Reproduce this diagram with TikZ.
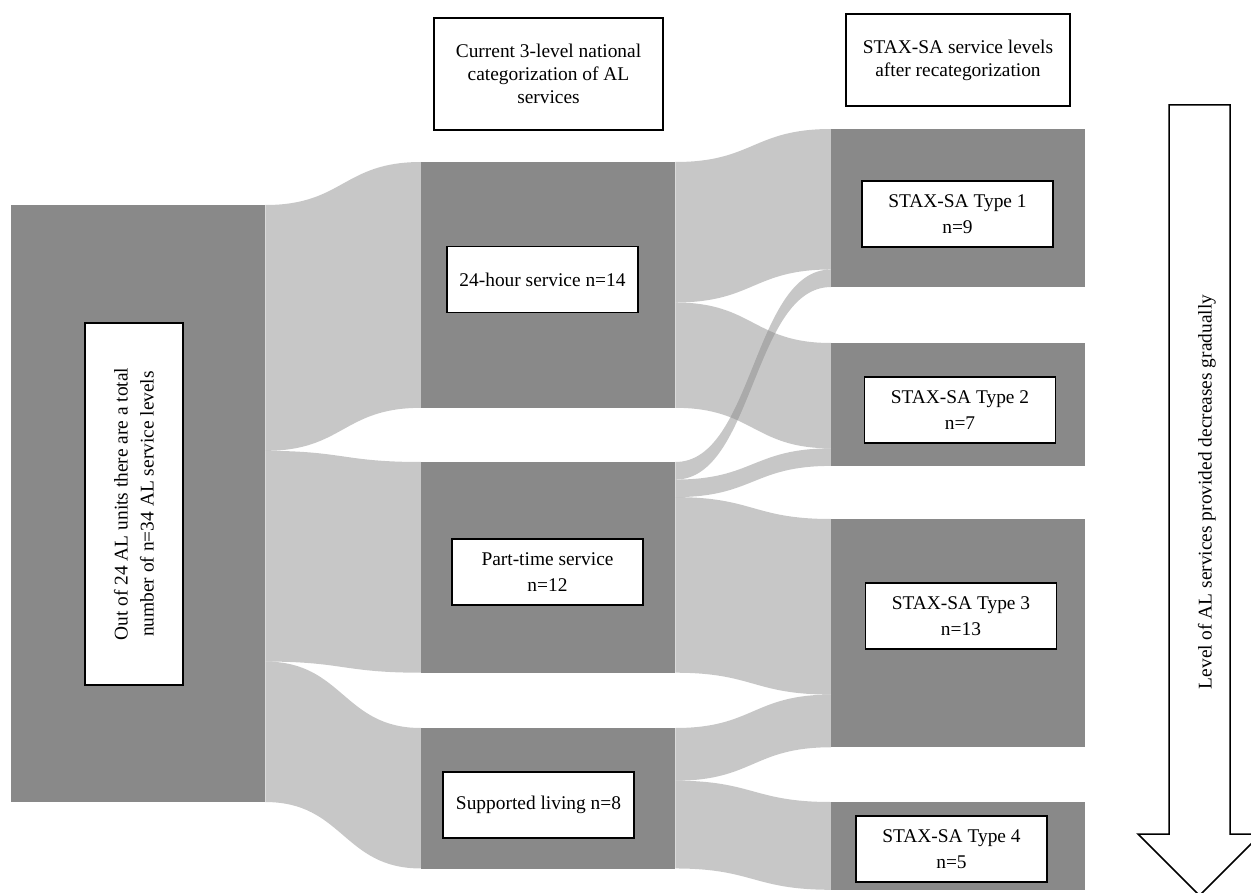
\documentclass[tikz,border=0pt]{standalone}
\usepackage{fontspec}
\setmainfont{Liberation Serif}
\usetikzlibrary{calc}
\definecolor{bar}{HTML}{898989}

% one service level in px
\newcommand{\flowunit}{17.56}
% band: source, offset, target, offset, width (all in levels)
\newcommand{\sankeyband}[5]{%
  \path (#1.north east) ++(0,#2*\flowunit) coordinate (fa)
    ++(0,#5*\flowunit) coordinate (fb);
  \path (#3.north west) ++(0,#4*\flowunit) coordinate (ga)
    ++(0,#5*\flowunit) coordinate (gb);
  \fill[band] (fa) .. controls +(78,0) and +(-78,0) .. (ga)
    -- (gb) .. controls +(-78,0) and +(78,0) .. (fb) -- cycle;}

\begin{document}
\begin{tikzpicture}[x=1pt,y=-1pt,
    font=\fontsize{19.4}{22}\selectfont,
    block/.style={fill=bar,inner sep=0pt,minimum width=254,anchor=north west},
    tag/.style={fill=white,draw=black,line width=1.2pt,align=center,
      font=\fontsize{19.4}{26}\selectfont,
      minimum width=191,minimum height=66,inner sep=2pt},
    head/.style={tag,font=\fontsize{19.4}{23}\selectfont},
    band/.style={fill=bar,fill opacity=0.47}]
  \useasboundingbox (0,0) rectangle (1251,893);

  % Columns of service levels
  \node[block,minimum height=34*\flowunit] (all) at (11,205) {};
  \node[block,minimum height=14*\flowunit] (h24) at (421,162) {};
  \node[block,minimum height=12*\flowunit] (part) at (421,462) {};
  \node[block,minimum height=8*\flowunit] (supp) at (421,728) {};
  \node[block,minimum height=9*\flowunit] (t1) at (831,129) {};
  \node[block,minimum height=7*\flowunit] (t2) at (831,343) {};
  \node[block,minimum height=13*\flowunit] (t3) at (831,519) {};
  \node[block,minimum height=5*\flowunit] (t4) at (831,802) {};

  % Bands between the columns
  \sankeyband{all}{0}{h24}{0}{14}
  \sankeyband{all}{14}{part}{0}{12}
  \sankeyband{all}{26}{supp}{0}{8}
  \sankeyband{h24}{0}{t1}{0}{8}
  \sankeyband{h24}{8}{t2}{0}{6}
  \sankeyband{part}{0}{t1}{8}{1}
  \sankeyband{part}{1}{t2}{6}{1}
  \sankeyband{part}{2}{t3}{0}{10}
  \sankeyband{supp}{0}{t3}{10}{3}
  \sankeyband{supp}{3}{t4}{0}{5}

  % Labels
  \node[tag,rotate=90,minimum width=362,minimum height=98] (allLab) at (134,504)
    {Out of 24 AL units there are a total\\number of n=34 AL service levels};
  \node[tag] (h24Lab) at (542.5,279.5) {24-hour service n=14};
  \node[tag] (partLab) at (547.5,572) {Part-time service\\n=12};
  \node[tag] (suppLab) at (538.5,805) {Supported living n=8};
  \node[tag] (t1Lab) at (957.5,214) {STAX-SA Type 1\\n=9};
  \node[tag] (t2Lab) at (960,410) {STAX-SA Type 2\\n=7};
  \node[tag] (t3Lab) at (961,616) {STAX-SA Type 3\\n=13};
  \node[tag] (t4Lab) at (951.5,849) {STAX-SA Type 4\\n=5};

  % Column headings
  \node[head,minimum width=229,minimum height=112] (headOld) at (548.5,74)
    {Current 3-level national\\categorization of AL\\services};
  \node[head,minimum width=224,minimum height=92] (headNew) at (958,60)
    {STAX-SA service levels\\after recategorization};

  % Downward arrow
  \draw[line width=1.5pt,fill=white] (1169,105) -- (1230,105) -- (1230,834)
    -- (1261,834) -- (1199.5,895.5) -- (1138,834) -- (1169,834) -- cycle;
  \node[rotate=90] (levelText) at (1207,492)
    {Level of AL services provided decreases gradually};
\end{tikzpicture}
\end{document}
